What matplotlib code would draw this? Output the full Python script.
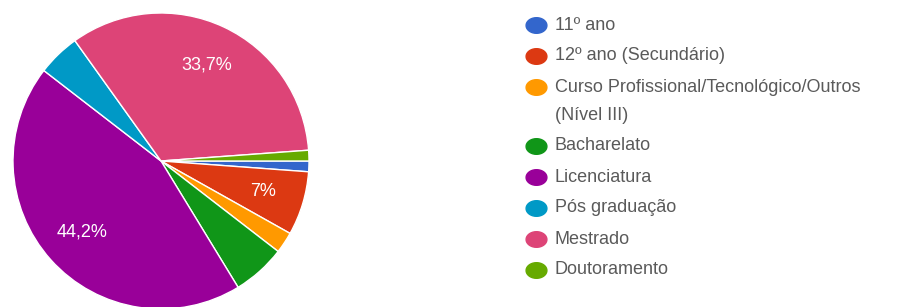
import matplotlib
matplotlib.use("Agg")
import matplotlib.pyplot as plt
import numpy as np
from matplotlib.path import Path

# education level answers (count of responses, 86 total)
labels = ["11º ano", "12º ano (Secundário)",
          "Curso Profissional/Tecnológico/Outros\n(Nível III)",
          "Bacharelato", "Licenciatura", "Pós graduação", "Mestrado",
          "Doutoramento"]
counts = [1, 6, 2, 5, 38, 4, 29, 1]
colors = ["#3366cc", "#dc3912", "#ff9900", "#109618", "#990099",
          "#0099c6", "#dd4477", "#66aa00"]

plt.rcParams['font.family'] = ['Liberation Sans', 'DejaVu Sans']

fig = plt.figure(figsize=(8.98, 3.07), dpi=100)
W, H = 898, 307

# pie axes: centre (161,161) px from top, radius 148 px
cx, cy, r = 161, 161, 148
ax = fig.add_axes([(cx - r) / W, (H - cy - r) / H, 2 * r / W, 2 * r / H])


def fmt_pct(p):
    if p < 6.5:
        return ""
    s = "%.1f" % p
    if s.endswith(".0"):
        s = s[:-2]
    return s.replace(".", ",") + "%"


wedges, texts, autotexts = ax.pie(
    counts, colors=colors, startangle=0, counterclock=False,
    autopct=fmt_pct, pctdistance=0.72,
    wedgeprops=dict(edgecolor="white", linewidth=1))
for t in autotexts:
    t.set_color("white")
    t.set_fontsize(13)
ax.set_xlim(-1, 1)
ax.set_ylim(-1, 1)
ax.set_aspect("equal")
ax.axis("off")

# slightly wide ellipse marker like the squashed legend dots
th = np.linspace(0, 2 * np.pi, 40)
dot = Path(np.column_stack([np.cos(th), 0.75 * np.sin(th)]), closed=True)

# legend drawn by hand, wrapped labels one text per line
lx, tx = 536, 555
y = 25
for lab, col in zip(labels, colors):
    fig.lines.append(plt.Line2D([lx / W], [1 - y / H], marker=dot,
                                markersize=15, color=col, linestyle="none",
                                transform=fig.transFigure))
    parts = lab.split("\n")
    for k, part in enumerate(parts):
        fig.text(tx / W, 1 - (y + 29 * k) / H, part, fontsize=13,
                 color="#5a5a5a", va="center", ha="left")
    y += 31 + 28 * (len(parts) - 1)

fig.savefig("out.png", dpi=100)
